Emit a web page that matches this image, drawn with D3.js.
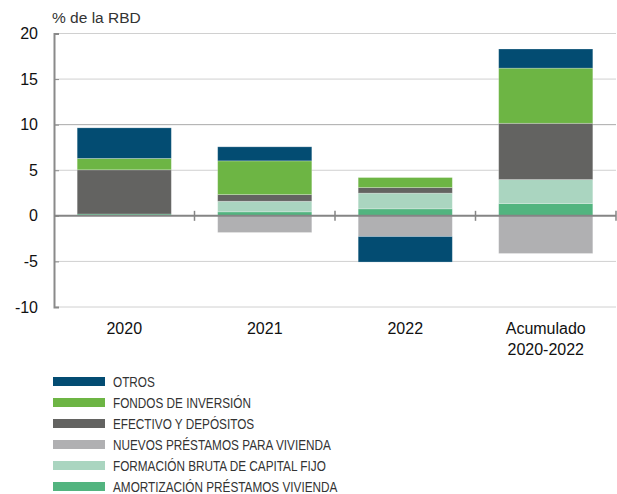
<!DOCTYPE html>
<html>
<head>
<meta charset="utf-8">
<script src="https://cdn.jsdelivr.net/npm/d3@7"></script>
<style>
  body { margin: 0; background: #fff; }
  svg { display: block; font-family: "Liberation Sans", Arial, sans-serif; }
</style>
</head>
<body>
<div id="chart"></div>
<script>
const categories = ["2020", "2021", "2022", "Acumulado\n2020-2022"];
const amortizacion = [0.2, 0.44, 0.77, 1.35];
const fbcf = [0, 1.16, 1.72, 2.63];
const nuevosPrestamos = [0, -1.83, -2.27, -4.13];
const efectivo = [4.85, 0.73, 0.61, 6.17];
const fondos = [1.25, 3.7, 1.1, 6.05];
const otros = [3.35, 1.54, -2.8, 2.1];
const yTicks = [-10, -5, 0, 5, 10, 15, 20];

const series = [
  { key: "amort", label: "AMORTIZACIÓN PRÉSTAMOS VIVIENDA", values: amortizacion, color: "#52b47f" },
  { key: "fbcf", label: "FORMACIÓN BRUTA DE CAPITAL FIJO", values: fbcf, color: "#aad5c0" },
  { key: "nuevos", label: "NUEVOS PRÉSTAMOS PARA VIVIENDA", values: nuevosPrestamos, color: "#b0b0b2" },
  { key: "efectivo", label: "EFECTIVO Y DEPÓSITOS", values: efectivo, color: "#636361" },
  { key: "fondos", label: "FONDOS DE INVERSIÓN", values: fondos, color: "#6db544" },
  { key: "otros", label: "OTROS", values: otros, color: "#034c72" }
];
const legendOrder = ["otros", "fondos", "efectivo", "nuevos", "fbcf", "amort"];

const width = 617;
const height = 494;
const margin = { top: 33.5, bottom: 187, left: 54, right: 1 };

const table = categories.map((c, i) => {
  const row = { cat: c };
  series.forEach(s => row[s.key] = s.values[i]);
  return row;
});

const stacked = d3.stack()
  .keys(series.map(s => s.key))
  .offset(d3.stackOffsetDiverging)(table);

const svg = d3.select("#chart")
  .append("svg")
  .attr("width", width)
  .attr("height", height);

const x = d3.scaleBand()
  .domain(categories)
  .range([margin.left, width - margin.right])
  .paddingInner(0.33)
  .paddingOuter(0.165);

const y = d3.scaleLinear()
  .domain([-10, 20])
  .range([height - margin.bottom, margin.top]);

// grid
svg.append("g")
  .selectAll("line")
  .data(yTicks.filter(t => t !== 0))
  .join("line")
    .attr("x1", margin.left)
    .attr("x2", width - margin.right)
    .attr("y1", d => y(d))
    .attr("y2", d => y(d))
    .attr("stroke", d => d === 10 ? "#a9a9a9" : "#d0d0d0")
    .attr("stroke-width", 1);

// y axis
function yAxis(g) {
  g.attr("transform", `translate(${margin.left},0)`)
    .call(d3.axisRight(y).tickValues(yTicks).tickSize(5).tickFormat(d => String(d)))
    .call(g => g.select(".domain").attr("stroke", "#8a8a8a").attr("stroke-width", 2))
    .call(g => g.selectAll(".tick line").attr("stroke", "#8a8a8a"))
    .call(g => g.selectAll(".tick text")
      .attr("x", -16)
      .attr("text-anchor", "end")
      .attr("fill", "#111")
      .attr("font-size", "16px"));
}
svg.append("g").call(yAxis);

// bars
const color = d3.scaleOrdinal().domain(series.map(s => s.key)).range(series.map(s => s.color));
svg.append("g")
  .selectAll("g")
  .data(stacked)
  .join("g")
    .attr("fill", d => color(d.key))
  .selectAll("rect")
  .data(d => d)
  .join("rect")
    .attr("x", d => x(d.data.cat))
    .attr("y", d => y(Math.max(d[0], d[1])))
    .attr("height", d => Math.abs(y(d[0]) - y(d[1])))
    .attr("width", x.bandwidth())
    .attr("stroke", "rgba(255,255,255,0.3)")
    .attr("stroke-width", 0.8);

// zero axis with ticks at band boundaries
const boundaries = categories.map(c => x(c) + x.bandwidth() + x.step() * x.paddingInner() / 2);
const zero = svg.append("g");
zero.append("line")
  .attr("x1", margin.left)
  .attr("x2", width - margin.right)
  .attr("y1", y(0))
  .attr("y2", y(0))
  .attr("stroke", "#858585")
  .attr("stroke-width", 2);
zero.selectAll("line.tk")
  .data(boundaries)
  .join("line")
    .attr("class", "tk")
    .attr("x1", d => d)
    .attr("x2", d => d)
    .attr("y1", y(0) - 5)
    .attr("y2", y(0) + 5)
    .attr("stroke", "#858585")
    .attr("stroke-width", 1.5);

// category labels
svg.append("g")
  .selectAll("text")
  .data(categories)
  .join("text")
    .attr("x", d => x(d) + x.bandwidth() / 2)
    .attr("y", 334)
    .attr("text-anchor", "middle")
    .attr("font-size", "16px")
    .attr("fill", "#111")
  .selectAll("tspan")
  .data(d => d.split("\n"))
  .join("tspan")
    .attr("x", function() { return this.parentNode.getAttribute("x"); })
    .attr("dy", (d, i) => i === 0 ? 0 : 21)
    .text(d => d);

// unit label
svg.append("text")
  .attr("x", 52)
  .attr("y", 23)
  .attr("font-size", "15.5px")
  .attr("fill", "#333")
  .text("% de la RBD");

// legend
const legend = svg.append("g")
  .selectAll("g")
  .data(legendOrder.map(k => series.find(s => s.key === k)))
  .join("g")
    .attr("transform", (d, i) => `translate(53,${381.5 + i * 21})`);
legend.append("rect")
  .attr("x", 0)
  .attr("y", -4.5)
  .attr("width", 52)
  .attr("height", 9)
  .attr("fill", d => d.color);
legend.append("text")
  .attr("transform", "translate(60,5.5) scale(0.785,1)")
  .attr("font-size", "15px")
  .attr("fill", "#333")
  .text(d => d.label);
</script>
</body>
</html>
